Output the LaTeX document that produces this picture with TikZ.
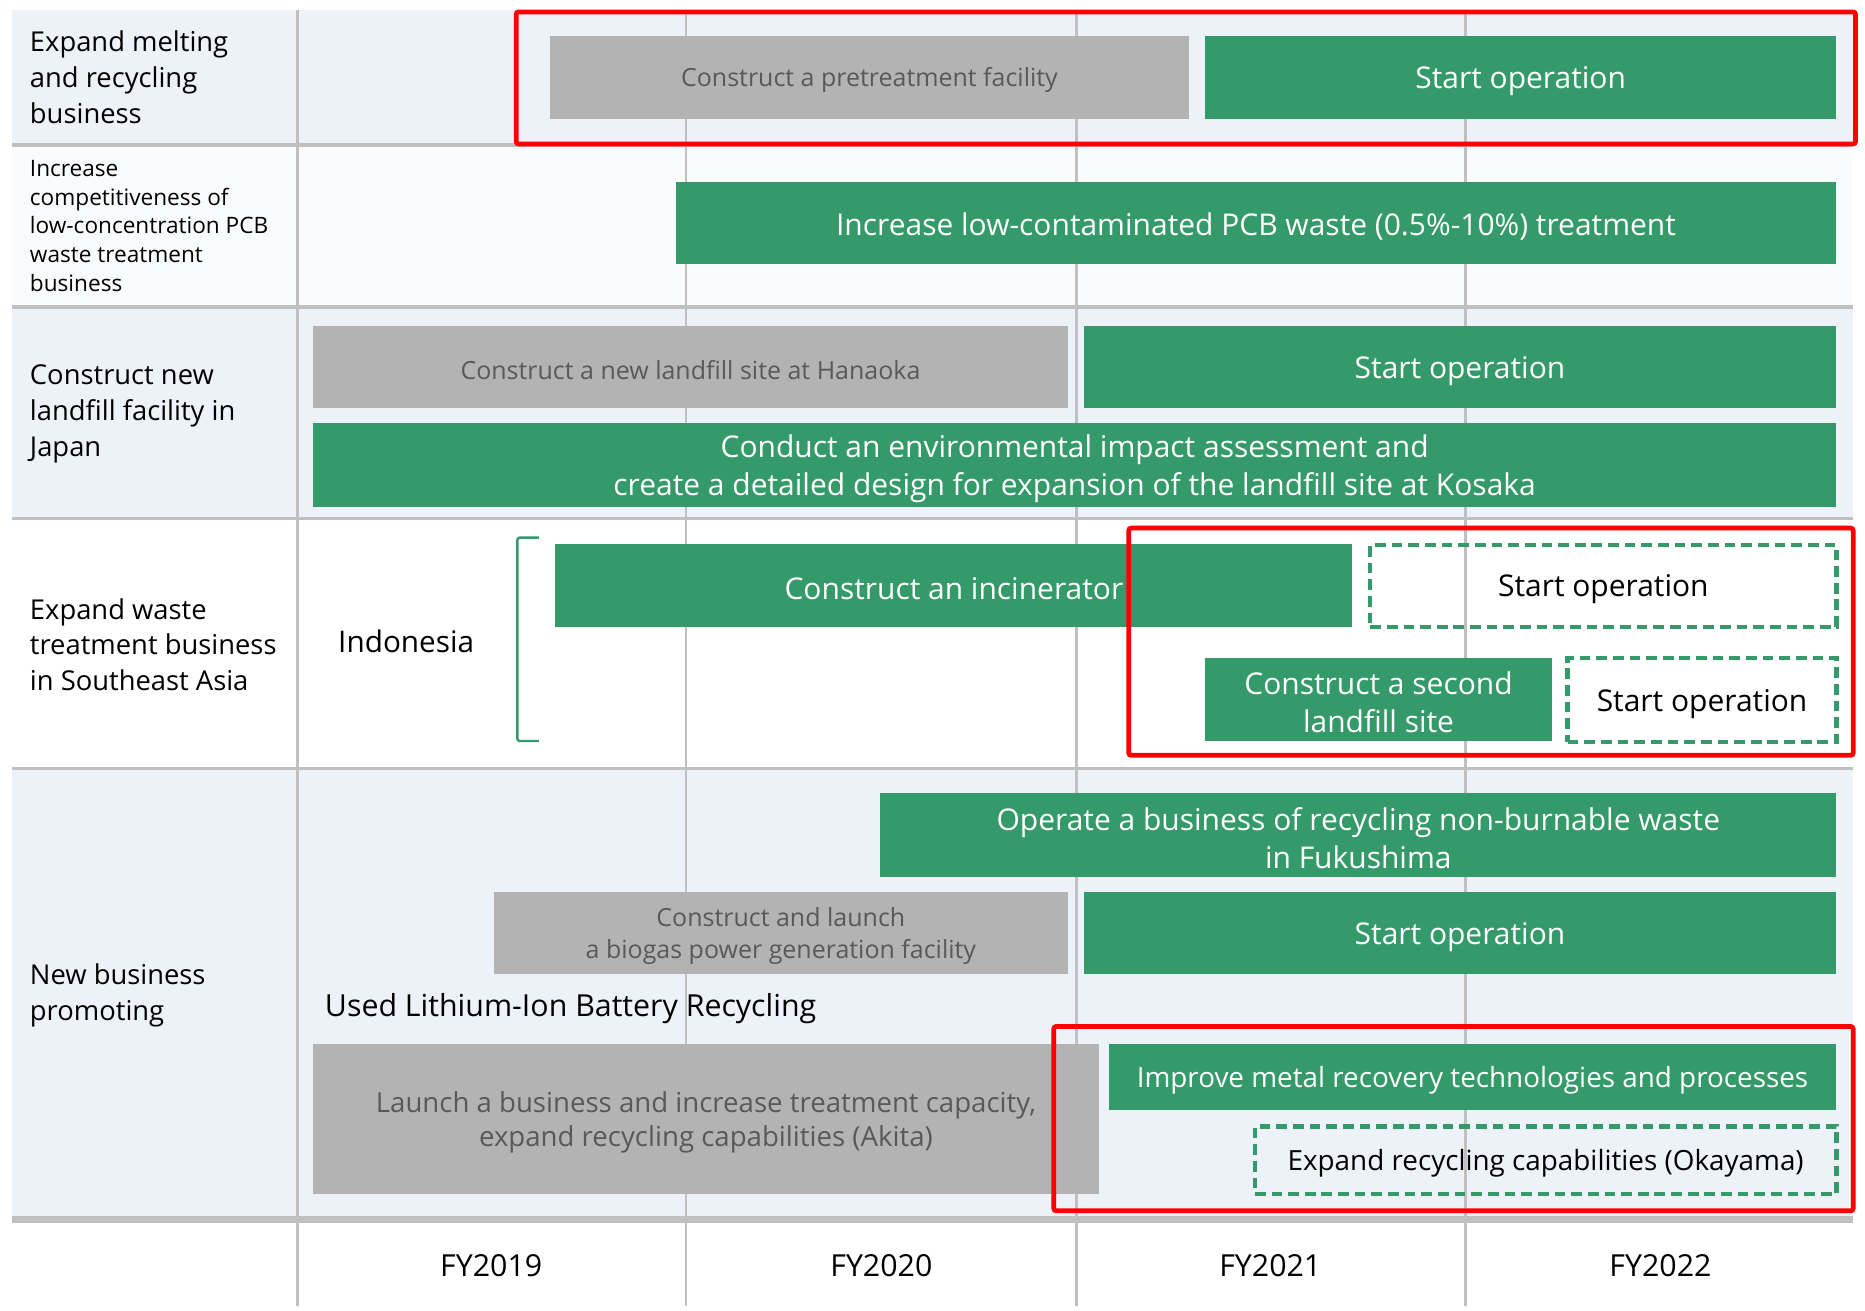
\documentclass[tikz,border=0pt]{standalone}
\usepackage{fontspec}
\setmainfont{Open Sans}
\definecolor{grn}{HTML}{359A69}
\definecolor{boxgray}{HTML}{B3B3B3}
\definecolor{txtgray}{HTML}{595959}
\definecolor{rowblue}{HTML}{EDF1F8}
\definecolor{rowwhite}{HTML}{FAFBFD}
\definecolor{gridgray}{HTML}{C0C0C0}
\definecolor{hilite}{HTML}{FF0000}
\newcommand\boxfont{\fontsize{25.2}{32}\selectfont}
\newcommand\midfont{\fontsize{23.4}{30}\selectfont}
\newcommand\grayfont{\fontsize{21}{27}\selectfont}
\newcommand\labelfont{\fontsize{23}{30}\selectfont}
\newcommand\biglabelfont{\fontsize{25.5}{30}\selectfont}
\newcommand\smalllabelfont{\fontsize{19}{24.3}\selectfont}
% a tall invisible strut on the first line lowers the text a little inside each bar
\newcommand\barstrut{\rule{0pt}{0.98em}}
\tikzset{
  bar/.style 2 args={inner sep=0pt, outer sep=0pt, align=center, font=\boxfont,
    minimum width=#1, minimum height=#2, execute at begin node=\barstrut},
  greenbar/.style 2 args={bar={#1}{#2}, fill=grn, text=white},
  graybar/.style 2 args={bar={#1}{#2}, fill=boxgray, text=txtgray, font=\grayfont},
  planbar/.style 2 args={bar={#1}{#2}, draw=grn, line width=3.8pt,
    dash pattern=on 9pt off 5pt, text=black},
  redframe/.style={draw=hilite, line width=4pt, rounded corners=2pt},
  gridline/.style={draw=gridgray, line width=2pt},
  rowlabel/.style={anchor=west, align=left, inner sep=0pt, font=\labelfont},
  yearlabel/.style={inner sep=0pt, font=\biglabelfont},
}
\begin{document}
\begin{tikzpicture}[x=1pt,y=-1pt]
\useasboundingbox (0,0) rectangle (1568,1101.4);
\fill[white] (0,0) rectangle (1568,1101.4);

% row bands
\fill[rowblue]  (10,8)   rectangle (1558,122);
\fill[rowwhite] (10,122) rectangle (1558,258);
\fill[rowblue]  (10,258) rectangle (1558,436);
\fill[white]    (10,436) rectangle (1558,646);
\fill[rowblue]  (10,646) rectangle (1558,1025);

% grid
\foreach \x in {250,577,905,1232} \draw[gridline] (\x,8) -- (\x,1098);
\foreach \y in {122,258,436,646} \draw[draw=gridgray, line width=3pt] (10,\y) -- (1558,\y);
\draw[draw=gridgray, line width=6pt] (10,1025) -- (1558,1025);

% row labels
\node[rowlabel] (l1) at (25,65) {Expand melting\\and recycling\\business};
\node[rowlabel, font=\smalllabelfont] (l2) at (25,190) {Increase\\competitiveness of\\low-concentration PCB\\waste treatment\\business};
\node[rowlabel] (l3) at (25,348) {Construct new\\landfill facility in\\Japan};
\node[rowlabel] (l4) at (25,542) {Expand waste\\treatment business\\in Southeast Asia};
\node[rowlabel] (l5) at (25,837) {New business\\promoting};

% melting and recycling
\node[graybar={538pt}{70pt}] (pre) at (731,65) {Construct a pretreatment facility};
\node[greenbar={531pt}{70pt}] (preop) at (1278.5,65) {Start operation};

% PCB
\node[greenbar={976pt}{69pt}] (pcb) at (1056,187.5) {Increase low-contaminated PCB waste (0.5\%-10\%) treatment};

% landfill in Japan
\node[graybar={635pt}{69pt}] (hanaoka) at (580.5,308.5) {Construct a new landfill site at Hanaoka};
\node[greenbar={633pt}{69pt}] (hanaokaop) at (1227.5,308.5) {Start operation};
\node[greenbar={1281pt}{70pt}] (kosaka) at (903.5,391) {\barstrut Conduct an environmental impact assessment and\\create a detailed design for expansion of the landfill site at Kosaka};

% Southeast Asia
\node[font=\fontsize{25}{30}\selectfont, inner sep=0pt] (indo) at (341.5,539) {Indonesia};
\draw[grn, line width=2pt, rounded corners=2pt] (453,452) -- (435,452) -- (435,623) -- (453,623);
\node[greenbar={670pt}{70pt}] (incin) at (802,492) {Construct an incinerator};
\node[planbar={392pt}{69pt}] (incinop) at (1348,492.5) {Start operation};
\node[greenbar={292pt}{70pt}] (second) at (1159,588) {\barstrut Construct a second\\landfill site};
\node[planbar={226pt}{71pt}] (secondop) at (1431,588.5) {Start operation};

% new business
\node[greenbar={804pt}{70pt}] (fuku) at (1142,702) {\barstrut Operate a business of recycling non-burnable waste\\in Fukushima};
\node[graybar={483pt}{69pt}] (biogas) at (656.5,784.5) {\barstrut Construct and launch\\a biogas power generation facility};
\node[greenbar={633pt}{69pt}] (biogasop) at (1227.5,784.5) {Start operation};
\node[anchor=west, inner sep=0pt, font=\biglabelfont] (lib) at (273,848) {Used Lithium-Ion Battery Recycling};
\node[graybar={661pt}{126pt}, font=\fontsize{23.2}{29}\selectfont] (akita) at (593.5,941) {\barstrut Launch a business and increase treatment capacity,\\expand recycling capabilities (Akita)};
\node[greenbar={612pt}{55pt}, font=\midfont] (metal) at (1238,905.5) {Improve metal recovery technologies and processes};
\node[planbar={489pt}{57pt}, font=\midfont] (okayama) at (1299.5,975.5) {Expand recycling capabilities (Okayama)};

% highlight frames
\draw[redframe] (434,10) rectangle (1560,121);
\draw[redframe] (949,444) rectangle (1558,635);
\draw[redframe] (886,863) rectangle (1558,1018);

% fiscal years
\node[yearlabel] (fy19) at (413,1064) {FY2019};
\node[yearlabel] (fy20) at (741,1064) {FY2020};
\node[yearlabel] (fy21) at (1068,1064) {FY2021};
\node[yearlabel] (fy22) at (1396,1064) {FY2022};
\end{tikzpicture}
\end{document}
